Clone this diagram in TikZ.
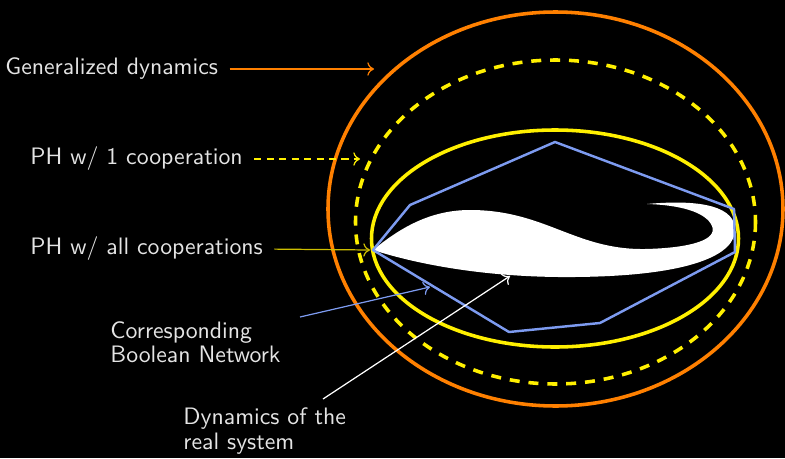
\documentclass[tikz,border=0pt]{standalone}
\usepackage{xcolor}
\usepackage{tikz}
\usetikzlibrary{arrows.meta,positioning}

\definecolor{dynorange}{RGB}{255,128,0}
\definecolor{phyellow}{RGB}{255,240,0}
\definecolor{phdark}{RGB}{205,190,0}
\definecolor{bnblue}{RGB}{125,155,240}
\definecolor{labelgray}{RGB}{228,228,228}

\begin{document}
\begin{tikzpicture}[
  x=0.45pt, y=-0.45pt,
  font=\sffamily\fontsize{10.7}{10.9}\selectfont,
  lbl/.style={text=labelgray, inner sep=0pt, anchor=west, align=left},
  ptr/.style={-{To[length=3pt,width=6pt]}, line width=0.55pt, shorten <=5pt},
  ring/.style={line width=1.6pt}
]
  \fill[black] (0,0) rectangle (785,458);
  \useasboundingbox (0,0) rectangle (785,458);

  \draw[ring, dynorange] (555.5,209) ellipse [x radius=227.5, y radius=197];
  \draw[ring, phyellow, dash pattern=on 4.5pt off 4pt] (555.5,222) ellipse [x radius=200, y radius=162];
  \draw[ring, phyellow] (555,238.5) ellipse [x radius=183.5, y radius=108.5];

  \fill[white] (373,250) .. controls (400,228) and (430,210) .. (470,210)
    .. controls (545,210) and (575,250) .. (645,249)
    .. controls (690,248) and (718,240) .. (712,226)
    .. controls (706,212) and (680,205) .. (647,204)
    .. controls (690,200) and (733,203) .. (735,228)
    .. controls (737,255) and (690,276) .. (575,277)
    .. controls (480,278) and (410,262) .. (373,250) -- cycle;

  \draw[bnblue, line width=1.1pt, line join=round] (373,250) -- (410,205) -- (555,142) -- (734,209)
    -- (735,252) -- (600,323) -- (509,332) -- cycle;

  \node[lbl] (gen) at (5,69) {Generalized dynamics};
  \node[lbl] (one) at (30,159) {PH w/ 1 cooperation};
  \node[lbl] (all) at (30,249) {PH w/ all cooperations};
  \node[lbl] (bn) at (110,342) {Corresponding\\Boolean Network};
  \node[lbl] (real) at (183,431) {Dynamics of the\\real system};

  \coordinate (gentip) at (374,69);
  \coordinate (onetip) at (360,159);
  \coordinate (alltip) at (370,250);
  \coordinate (bntip) at (430,287);
  \coordinate (realtip) at (510,276);
  \coordinate (bnfoot) at (300,317);
  \coordinate (realfoot) at (323,399);

  \draw[ptr, dynorange] (gen.east) -- (gentip);
  \draw[ptr, phyellow, dash pattern=on 3.2pt off 2.4pt] (one.east) -- (onetip);
  \draw[ptr, phdark] (all.east) -- (alltip);
  \draw[ptr, bnblue, shorten <=0pt] (bnfoot) -- (bntip);
  \draw[ptr, white, shorten <=0pt] (realfoot) -- (realtip);
\end{tikzpicture}
\end{document}
